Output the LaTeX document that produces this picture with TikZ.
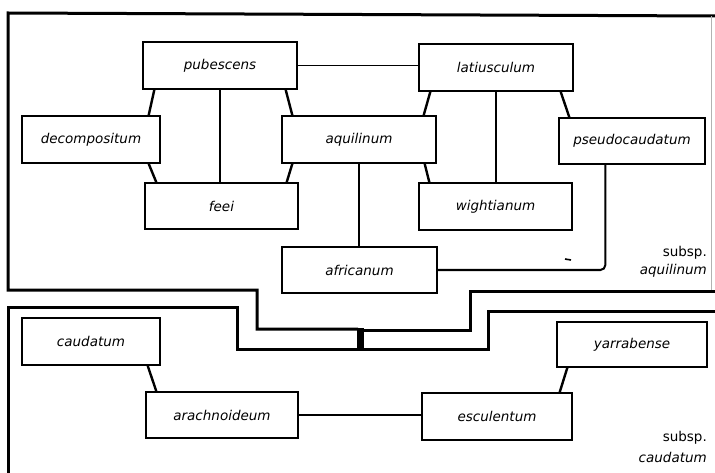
\documentclass[tikz,border=0pt]{standalone}
\usepackage{fontspec}
\setmainfont{DejaVu Sans}
\usetikzlibrary{calc}
\begin{document}
\begin{tikzpicture}[x=1pt,y=-1pt,
  sp/.style={draw, line width=1.3pt, font=\fontsize{13.5}{15}\selectfont\itshape, minimum height=47pt, inner sep=0pt},
  frame/.style={line width=3pt, line join=miter},
  thk/.style={line width=2.4pt},
  thn/.style={line width=1.5pt},
  lab/.style={anchor=east, inner sep=0pt, font=\fontsize{13.5}{15}\selectfont}]
\useasboundingbox (0,0) rectangle (715,473);
% species boxes
\node[sp, minimum width=154pt] (pub) at (220,65.5) {pubescens};
\node[sp, minimum width=138pt] (dec) at (91,139.5) {decompositum};
\node[sp, minimum width=153pt, minimum height=46pt] (feei) at (221.5,206) {feei};
\node[sp, minimum width=154pt] (aqu) at (359,139.5) {aquilinum};
\node[sp, minimum width=154pt] (lat) at (496,67.5) {latiusculum};
\node[sp, minimum width=146pt, minimum height=46pt] (pse) at (632,141) {pseudocaudatum};
\node[sp, minimum width=153pt] (wig) at (495.5,206.5) {wightianum};
\node[sp, minimum width=155pt, minimum height=46pt] (afr) at (359.5,270) {africanum};
\node[sp, minimum width=138pt] (cau) at (91,341.5) {caudatum};
\node[sp, minimum width=152pt, minimum height=46pt] (ara) at (222,415) {arachnoideum};
\node[sp, minimum width=150pt] (esc) at (497,416.5) {esculentum};
\node[sp, minimum width=150pt, minimum height=45pt] (yar) at (632,344.5) {yarrabense};
% labels
\node[lab] (s1) at (707,253) {subsp.};
\node[lab] (n1) at (707,271) {\itshape aquilinum};
\node[lab] (s2) at (707,438) {subsp.};
\node[lab] (n2) at (707,457) {\itshape caudatum};
% slanted connectors
\draw[thk] ($(pub.south west)+(12,0)$) -- ($(dec.north east)+(-12,0)$);
\draw[thk] ($(dec.south east)+(-12,0)$) -- ($(feei.north west)+(12,0)$);
\draw[thk] ($(pub.south east)+(-12,0)$) -- ($(aqu.north west)+(11,0)$);
\draw[thk] ($(aqu.south west)+(11,0)$) -- ($(feei.north east)+(-12,0)$);
\draw[thk] ($(lat.south west)+(12,0)$) -- ($(aqu.north east)+(-13,0)$);
\draw[thk] ($(aqu.south east)+(-12,0)$) -- ($(wig.north west)+(11,0)$);
\draw[thk] ($(lat.south east)+(-13,0)$) -- ($(pse.north west)+(11,0)$);
\draw[thk] ($(cau.south east)+(-13,0)$) -- ($(ara.north west)+(11,0)$);
\draw[thk] ($(esc.north east)+(-13,0)$) -- ($(yar.south west)+(11,0)$);
% straight connectors
\draw[line width=1.9pt] (pub.east) -- (pub.east -| lat.west);
\draw[thn] (pub.south) -- (pub.south |- feei.north);
\draw[thn] (lat.south) -- (lat.south |- wig.north);
\draw[thn] (aqu.south) -- (aqu.south |- afr.north);
\draw[line width=1.9pt] (ara.east) -- (ara.east -| esc.west);
\draw[line width=2pt, rounded corners=5pt] ($(pse.south west)+(47,0)$) |- (afr.east);
\coordinate (tick1) at (565,259);
\coordinate (tick2) at (571,260);
\draw[line width=1.6pt] (tick1) -- (tick2);
% frames
\draw[frame] (358,329) -- (257,329) -- (257,290) -- (8,290) -- (8,13) -- (715,16);
\draw[line width=0.8pt, gray!60] (711,16) -- (711,291);
\draw[frame] (715,291) -- (470,291) -- (470,330) -- (362,330);
\draw[frame] (8,473) -- (8,307) -- (237,307) -- (237,349) -- (488,349) -- (488,311) -- (715,311);
\fill (356.5,328) rectangle (363.5,350.5);
\end{tikzpicture}
\end{document}
